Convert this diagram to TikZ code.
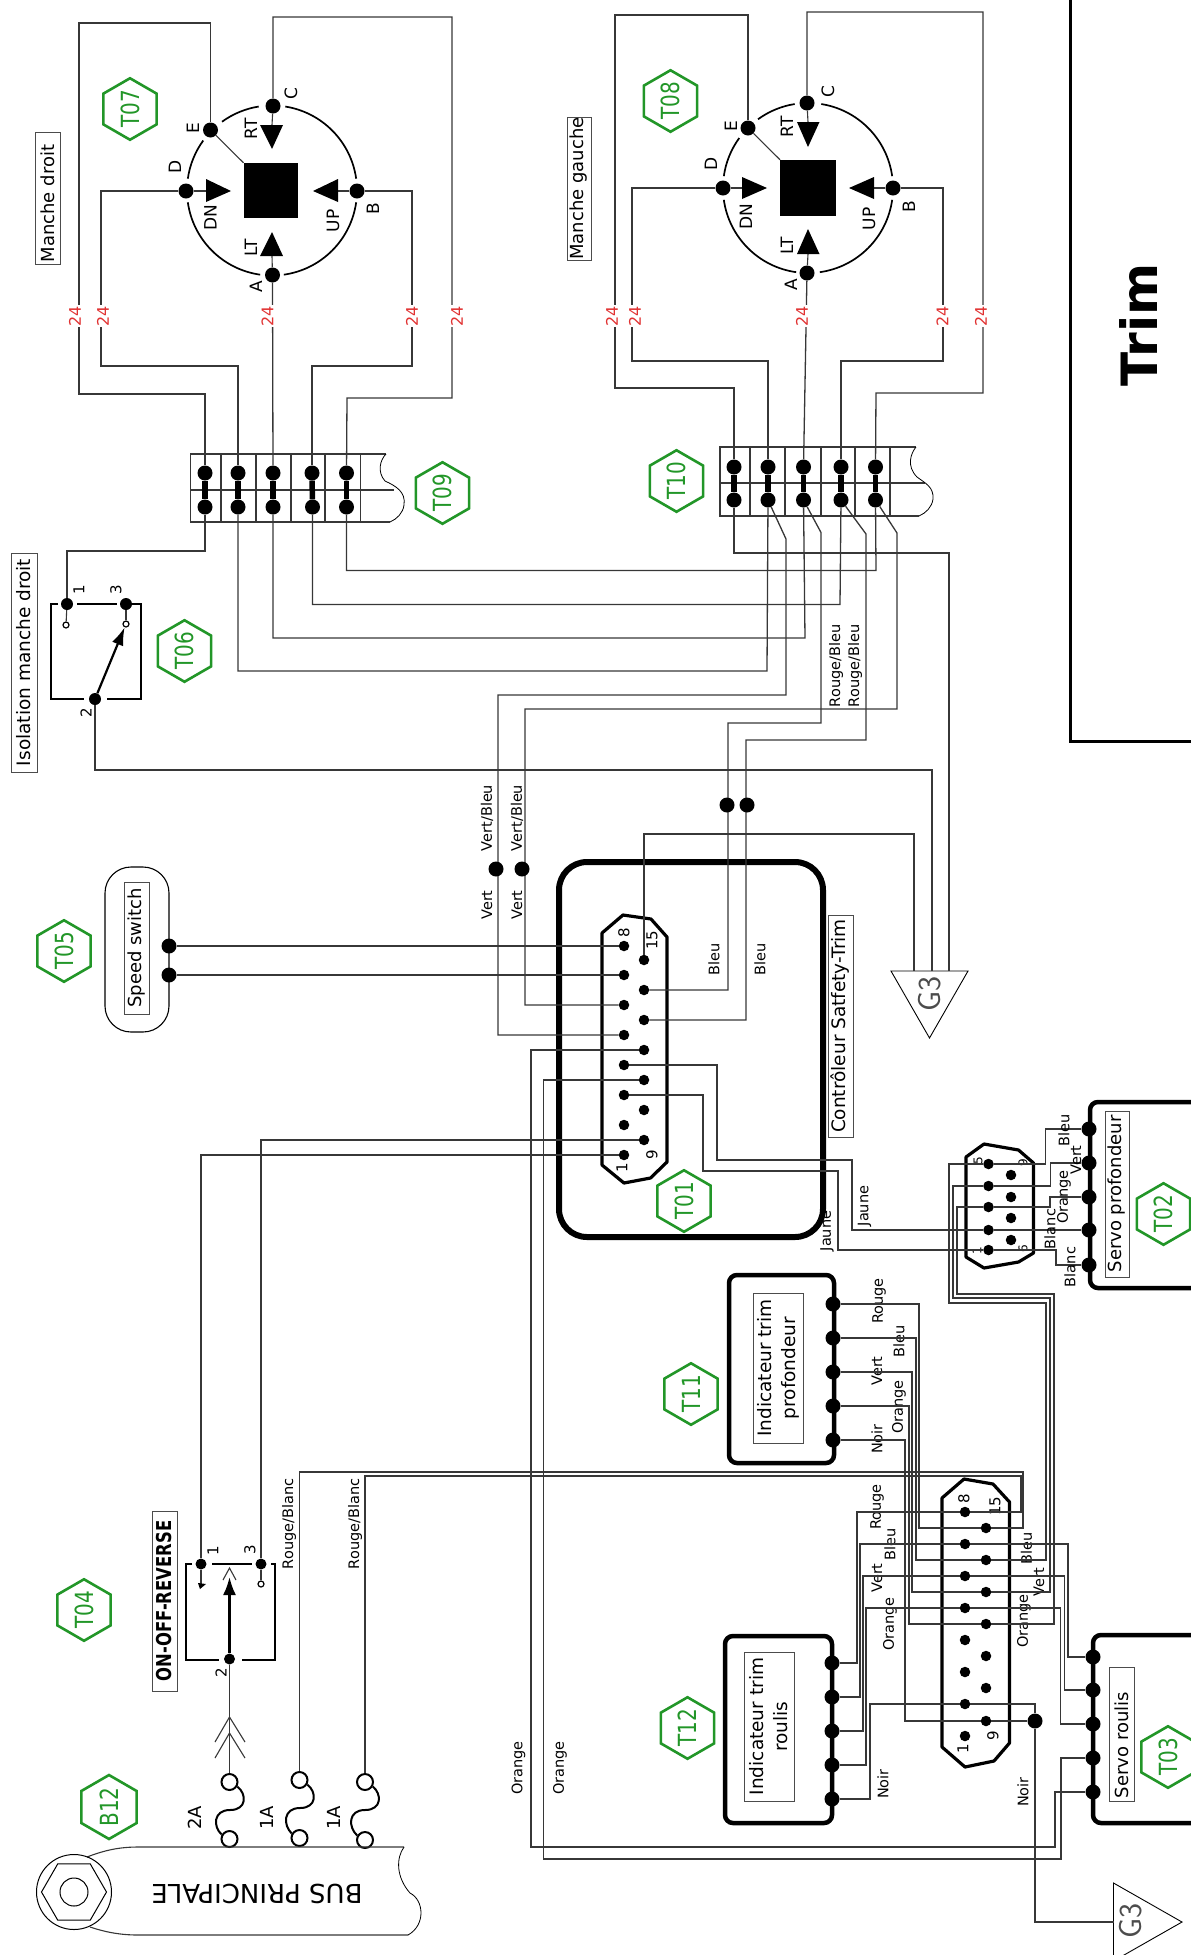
\documentclass[tikz,border=0pt]{standalone}
\usepackage{fontspec}
\setmainfont{DejaVu Sans}
\newfontfamily\hexfont{DejaVu Sans}[FakeStretch=0.8]
\usetikzlibrary{shapes.geometric}
\usetikzlibrary{arrows.meta}
\definecolor{hexgreen}{RGB}{34,150,40}
\definecolor{numred}{RGB}{225,50,50}
\definecolor{wiregray}{RGB}{55,55,55}

\begin{document}
\begin{tikzpicture}[x=1pt, y=-1pt]
	\tikzstyle{wire}=[draw=wiregray, line width=1.3pt]
	\tikzstyle{thinline}=[draw=wiregray, line width=1.1pt]
	\tikzstyle{ringline}=[draw=black, line width=1.7pt]
	\tikzstyle{thickbox}=[draw=black, line width=4.5pt, rounded corners=8pt]
	\tikzstyle{plugline}=[draw=black, line width=3.2pt, line join=round]
	\tikzstyle{busbar}=[draw=black, line width=5.5pt]
	\tikzstyle{termdot}=[circle, fill=black, inner sep=0pt, minimum size=15pt]
	\tikzstyle{pindot}=[circle, fill=black, inner sep=0pt, minimum size=10.5pt]
	\tikzstyle{smallring}=[circle, draw=black, fill=white, line width=1.2pt, inner sep=0pt, minimum size=6pt]
	\tikzstyle{fusering}=[circle, draw=black, fill=white, line width=2pt, inner sep=0pt, minimum size=16pt]
	\tikzstyle{hexag}=[regular polygon, regular polygon sides=6, draw=hexgreen, text=hexgreen, line width=2.6pt, minimum size=60pt, inner sep=0pt, rotate=90, font=\hexfont\fontsize{25}{25}\selectfont]
	\tikzstyle{wirelab}=[rotate=90, inner sep=0pt, font=\fontsize{14.5}{16}\selectfont]
	\tikzstyle{pinlab}=[rotate=90, inner sep=0pt, font=\fontsize{15}{16}\selectfont]
	\tikzstyle{swlab}=[rotate=90, inner sep=0pt, font=\fontsize{17}{18}\selectfont]
	\tikzstyle{numlab}=[rotate=90, fill=white, text=numred, inner sep=1pt, font=\fontsize{16}{16}\selectfont]
	\tikzstyle{titlebox}=[draw=black!70, line width=.8pt, rotate=90, inner sep=0pt, align=center, font=\fontsize{18.5}{24}\selectfont]
	\tikzstyle{titlesmall}=[font=\fontsize{18}{24}\selectfont]
	\tikzstyle{groundlab}=[rotate=90, inner sep=0pt, text=black!70, font=\sffamily\fontsize{32}{32}\selectfont]

	\useasboundingbox (0,0) rectangle (1191,1955);
	\clip (0,0) rectangle (1191,1955);

	% poignee droite
	\draw node at (271,190.5) [fill=black, minimum width=54.5pt, minimum height=55pt, inner sep=0pt] (sq7) {};
	\coordinate (cen7) at (272,190.5);
	\draw [ringline] ([shift={(99:85pt)}]cen7) arc [start angle=99, end angle=126, radius=85pt];
	\draw [ringline] ([shift={(144:85pt)}]cen7) arc [start angle=144, end angle=172, radius=85pt];
	\draw [ringline] ([shift={(188:85pt)}]cen7) arc [start angle=188, end angle=262, radius=85pt];
	\draw [ringline] ([shift={(278:85pt)}]cen7) arc [start angle=278, end angle=352, radius=85pt];
	\draw [ringline] ([shift={(8:85pt)}]cen7) arc [start angle=8, end angle=81, radius=85pt];
	\draw node at (210.5,130) [termdot] (e7) {};
	\draw node at (186,191) [termdot] (d7) {};
	\draw node at (272.5,275) [termdot] (a7) {};
	\draw node at (357,191) [termdot] (b7) {};
	\draw node at (273,106) [termdot] (c7) {};
	\draw [thinline] (e7) -- (sq7.north west);
	\draw [thinline] (d7) -- (206,191);
	\draw [thinline] (b7) -- (337,191);
	\draw [thinline] (c7) -- (272,125);
	\draw [thinline] (a7) -- (272,256);
	\fill (206,179) -- (231,191) -- (206,202) -- cycle;
	\fill (338,179) -- (313,191) -- (338,202) -- cycle;
	\fill (260,125) -- (272,149) -- (283,125) -- cycle;
	\fill (260,256) -- (272,232) -- (283,256) -- cycle;
	\draw node at (193,128) [swlab] (le7) {E};
	\draw node at (175,167) [swlab] (ld7) {D};
	\draw node at (291,94) [swlab] (lc7) {C};
	\draw node at (251,129) [swlab] (lrt7) {RT};
	\draw node at (210.5,218) [swlab] (ldn7) {DN};
	\draw node at (251,248) [swlab] (llt7) {LT};
	\draw node at (256,287) [swlab] (la7) {A};
	\draw node at (333,221) [swlab] (lup7) {UP};
	\draw node at (373,209) [swlab] (lb7) {B};
	\draw node at (47.5,198) [titlebox, titlesmall, minimum width=132pt, minimum height=25pt] (md) {Manche droit\hspace{11pt}};
	\draw node at (130,109) [hexag] (t07) {T07};

	% bornier droit
	\draw [thinline] (386,454) -- (190.5,454) -- (190.5,522) -- (390,522);
	\draw [thinline] (190.5,490) -- (394,490);
	\draw [thinline] (221,454) -- (221,522);
	\draw [thinline] (256,454) -- (256,522);
	\draw [thinline] (291,454) -- (291,522);
	\draw [thinline] (325,454) -- (325,522);
	\draw [thinline] (360.5,454) -- (360.5,522);
	\draw [draw=black, line width=.8pt] (386,454) .. controls (380,460) and (377,472) .. (385,481) .. controls (396,486) and (406,492) .. (404,505) .. controls (403,513) and (397,519) .. (390,522);
	\draw node at (205,473) [termdot] (a9) {};
	\draw node at (238,473) [termdot] (b9) {};
	\draw node at (273,473) [termdot] (c9) {};
	\draw node at (312,473) [termdot] (d9) {};
	\draw node at (346.5,473) [termdot] (e9) {};
	\draw node at (205,507) [termdot] (a9b) {};
	\draw node at (238,507) [termdot] (b9b) {};
	\draw node at (273,507) [termdot] (c9b) {};
	\draw node at (312.5,507) [termdot] (d9b) {};
	\draw node at (346.5,507) [termdot] (e9b) {};
	\draw [busbar] (a9) -- (a9b);
	\draw [busbar] (b9) -- (b9b);
	\draw [busbar] (c9) -- (c9b);
	\draw [busbar] (d9) -- (d9b);
	\draw [busbar] (e9) -- (e9b);
	\draw node at (442.5,493) [hexag] (t09) {T09};

	\draw [wire] (e7) |- (79,23) -- (79,394) -| (a9);
	\draw [wire] (d7) -| (101,366) -| (b9);
	\draw [wire] (a7) -- (c9);
	\draw [wire] (b7) -| (412,366) -| (d9);
	\draw [wire] (c7) |- (452,17) |- (347,398) -- (e9);
	\draw node at (75,316) [numlab] (n71) {24};
	\draw node at (103,316) [numlab] (n72) {24};
	\draw node at (267.5,316) [numlab] (n73) {24};
	\draw node at (412,316) [numlab] (n74) {24};
	\draw node at (457,316) [numlab] (n75) {24};

	% poignee gauche
	\draw node at (808,188) [fill=black, minimum width=55.5pt, minimum height=56pt, inner sep=0pt] (sq8) {};
	\coordinate (cen8) at (808,188);
	\draw [ringline] ([shift={(99:85pt)}]cen8) arc [start angle=99, end angle=126, radius=85pt];
	\draw [ringline] ([shift={(144:85pt)}]cen8) arc [start angle=144, end angle=172, radius=85pt];
	\draw [ringline] ([shift={(188:85pt)}]cen8) arc [start angle=188, end angle=262, radius=85pt];
	\draw [ringline] ([shift={(278:85pt)}]cen8) arc [start angle=278, end angle=352, radius=85pt];
	\draw [ringline] ([shift={(8:85pt)}]cen8) arc [start angle=8, end angle=81, radius=85pt];
	\draw node at (748,128) [termdot] (e8) {};
	\draw node at (723,188) [termdot] (d8) {};
	\draw node at (807,273) [termdot] (a8) {};
	\draw node at (893,188) [termdot] (b8) {};
	\draw node at (807,103) [termdot] (c8) {};
	\draw [thinline] (e8) -- (sq8.north west);
	\draw [thinline] (d8) -- (742,188);
	\draw [thinline] (b8) -- (874,188);
	\draw [thinline] (c8) -- (808,122);
	\draw [thinline] (a8) -- (808,254);
	\fill (742,177) -- (767,188) -- (742,199) -- cycle;
	\fill (874,177) -- (849,188) -- (874,199) -- cycle;
	\fill (797,122) -- (808,147) -- (819.5,122) -- cycle;
	\fill (797,254) -- (808,229) -- (819.5,254) -- cycle;
	\draw node at (731,126) [swlab] (le8) {E};
	\draw node at (711,164) [swlab] (ld8) {D};
	\draw node at (828,92) [swlab] (lc8) {C};
	\draw node at (787,127) [swlab] (lrt8) {RT};
	\draw node at (746,217) [swlab] (ldn8) {DN};
	\draw node at (787,246) [swlab] (llt8) {LT};
	\draw node at (791,285) [swlab] (la8) {A};
	\draw node at (869,219) [swlab] (lup8) {UP};
	\draw node at (909,207) [swlab] (lb8) {B};
	\draw node at (579,188.5) [titlebox, titlesmall, minimum width=143pt, minimum height=24pt] (mg) {Manche gauche};
	\draw node at (670.5,101) [hexag] (t08) {T08};

	% bornier gauche
	\draw [thinline] (916,447) -- (720,447) -- (720,516) -- (919,516);
	\draw [thinline] (720,483) -- (925,483);
	\draw [thinline] (750,447) -- (750,516);
	\draw [thinline] (785,447) -- (785,516);
	\draw [thinline] (821,447) -- (821,516);
	\draw [thinline] (855,447) -- (855,516);
	\draw [thinline] (890,447) -- (890,516);
	\draw [draw=black, line width=.8pt] (916,447) .. controls (911,453) and (906,466) .. (917,477) .. controls (925,483) and (934,487) .. (933,499) .. controls (932,507) and (926,513) .. (919,516);
	\draw node at (734,467) [termdot] (a10) {};
	\draw node at (768,467) [termdot] (b10) {};
	\draw node at (803.5,467) [termdot] (c10) {};
	\draw node at (841,467) [termdot] (d10) {};
	\draw node at (875.5,467) [termdot] (e10) {};
	\draw node at (734,500) [termdot] (a10b) {};
	\draw node at (768,500) [termdot] (b10b) {};
	\draw node at (803.5,500) [termdot] (c10b) {};
	\draw node at (841,500) [termdot] (d10b) {};
	\draw node at (875.5,500) [termdot] (e10b) {};
	\draw [busbar] (a10) -- (a10b);
	\draw [busbar] (b10) -- (b10b);
	\draw [busbar] (c10) -- (c10b);
	\draw [busbar] (d10) -- (d10b);
	\draw [busbar] (e10) -- (e10b);
	\draw node at (676.5,481) [hexag] (t10) {T10};

	\draw [wire] (e8) |- (615,15) -- (615,388) -| (a10);
	\draw [wire] (d8) -| (632,361) -| (b10);
	\draw [wire] (a8) -- (c10);
	\draw [wire] (b8) -| (943,361) -| (d10);
	\draw [wire] (c8) |- (983,12) |- (876,393) -- (e10);
	\draw node at (612,316) [numlab] (n81) {24};
	\draw node at (635,316) [numlab] (n82) {24};
	\draw node at (802,316) [numlab] (n83) {24};
	\draw node at (942.5,316) [numlab] (n84) {24};
	\draw node at (981,316) [numlab] (n85) {24};

	% cadre trim
	\draw [draw=black, line width=3pt] (1070,-5) -- (1070,741) -- (1200,741);
	\draw node at (1138,325) [rotate=90, inner sep=0pt, font=\bfseries\fontsize{50}{50}\selectfont] (trim) {Trim};

	% isolation manche droit
	\draw [draw=black, line width=1.6pt] (58,604) -- (51,604) -- (51,699) -- (84,699);
	\draw [draw=black, line width=1.6pt] (107,699) -- (141,699) -- (141,604) -- (132,604);
	\draw [draw=black, line width=1.6pt] (77,604) -- (117,604);
	\draw node at (67,604) [termdot, minimum size=12pt] (sw1) {};
	\draw node at (126,604) [termdot, minimum size=12pt] (sw3) {};
	\draw node at (95,699) [termdot, minimum size=12pt] (sw2) {};
	\draw node at (66,625) [smallring] (sm1) {};
	\draw node at (126,624) [smallring] (sm3) {};
	\draw [thinline] (sw1) -- (sm1);
	\draw [thinline] (sw3) -- (sm3);
	\draw [draw=black, line width=2.2pt, -{Latex[length=18pt,width=12pt]}] (sw2) -- (sm3);
	\draw node at (79,590) [pinlab] (ls1) {1};
	\draw node at (116,590) [pinlab] (ls3) {3};
	\draw node at (86,713) [pinlab] (ls2) {2};
	\draw node at (24,662.5) [titlebox, minimum width=219pt, minimum height=26pt] (iso) {Isolation manche droit};
	\draw node at (184.5,651) [hexag] (t06) {T06};
	\draw [wire] (a9b) |- (67,551) -- (sw1);

	% controleur
	\draw [draw=black, line width=6pt, rounded corners=28pt] (559,862) rectangle (823,1237);
	\draw [plugline] (602,933) -- (623,915) -- (651,919) -- (667,937) -- (667,1162) -- (650.5,1178) -- (624,1183) -- (602,1165) -- cycle;
	\draw node at (624,946) [pindot] (pa1) {};
	\draw node at (624,975) [pindot] (pa2) {};
	\draw node at (624,1005) [pindot] (pa3) {};
	\draw node at (624,1035) [pindot] (pa4) {};
	\draw node at (624,1065) [pindot] (pa5) {};
	\draw node at (624,1095) [pindot] (pa6) {};
	\draw node at (624,1125) [pindot] (pa7) {};
	\draw node at (624,1155) [pindot] (pa8) {};
	\draw node at (644,960) [pindot] (qa1) {};
	\draw node at (644,990) [pindot] (qa2) {};
	\draw node at (644,1020) [pindot] (qa3) {};
	\draw node at (644,1050) [pindot] (qa4) {};
	\draw node at (644,1080) [pindot] (qa5) {};
	\draw node at (644,1110) [pindot] (qa6) {};
	\draw node at (644,1140) [pindot] (qa7) {};
	\draw node at (624,933) [pinlab] (lpa8) {8};
	\draw node at (652,940) [pinlab] (lpa15) {15};
	\draw node at (622,1168) [pinlab] (lpa1) {1};
	\draw node at (652,1155) [pinlab] (lpa9) {9};
	\draw node at (840.5,1026) [titlebox, minimum width=222pt, minimum height=25pt] (ctrl) {Contrôleur Satfety-Trim};
	\draw node at (684,1201) [hexag] (t01) {T01};

	% speed switch
	\draw [draw=black, line width=1.1pt, rounded corners=26pt] (105,867) rectangle (169,1032);
	\draw node at (136.5,948) [titlebox, titlesmall, minimum width=132pt, minimum height=25pt] (speed) {Speed switch};
	\draw node at (169,946) [termdot] (ss1) {};
	\draw node at (169,975) [termdot] (ss2) {};
	\draw node at (64,951) [hexag] (t05) {T05};
	\draw [wire] (ss1) -- (pa1);
	\draw [wire] (ss2) -- (pa2);

	% masse G3 haut
	\draw [draw=black, line width=.9pt] (891,971) -- (968,971) -- (929.5,1038) -- cycle;
	\coordinate (g3a) at (914,971);
	\coordinate (g3b) at (932,971);
	\coordinate (g3c) at (949,971);
	\draw node at (930,994) [groundlab] (lg3a) {G3};

	\draw [wire] (e10b) -- (897,533) |- (525,709) |- (pa3);
	\draw [wire] (b10b) -- (786,539) |- (498,695) |- (pa4);
	\draw [wire] (c10b) -- (821,532.5) |- (728,723) |- (qa2);
	\draw [wire] (d10b) -- (866,534) |- (746,740) |- (qa3);
	\draw [wire] (a10b) |- (949,553) -- (g3c);
	\draw [wire] (sw2) |- (932,770) -- (g3b);
	\draw [wire] (qa1) |- (914,834) -- (g3a);
	\draw [wire] (b9b) |- (767,671) -- (b10b);
	\draw [wire] (c9b) |- (805,638) -- (c10b);
	\draw [wire] (d9b) |- (840,604.5) -- (d10b);
	\draw [wire] (e9b) |- (876,570.5) -- (e10b);
	\draw node at (496,869) [termdot] (jv1) {};
	\draw node at (522,869) [termdot] (jv2) {};
	\draw node at (727,805) [termdot] (jb1) {};
	\draw node at (747,805) [termdot] (jb2) {};
	\draw node at (487,818) [wirelab] (lvb1) {Vert/Bleu};
	\draw node at (517,818) [wirelab] (lvb2) {Vert/Bleu};
	\draw node at (487,905) [wirelab] (lv1) {Vert};
	\draw node at (517,905) [wirelab] (lv2) {Vert};
	\draw node at (836,666) [wirelab] (lrb1) {Rouge/Bleu};
	\draw node at (855,666) [wirelab] (lrb2) {Rouge/Bleu};
	\draw node at (714,959) [wirelab] (lbl1) {Bleu};
	\draw node at (760,959) [wirelab] (lbl2) {Bleu};

	% servo profondeur
	\draw [thickbox] (1200,1102) -- (1090,1102) -- (1090,1288) -- (1200,1288);
	\draw node at (1117,1194) [titlebox, titlesmall, minimum width=166pt, minimum height=24pt] (sp) {Servo profondeur};
	\draw node at (1163.5,1214) [hexag] (t02) {T02};
	\draw node at (1089,1129) [termdot] (t2a) {};
	\draw node at (1089,1163) [termdot] (t2b) {};
	\draw node at (1089,1197) [termdot] (t2c) {};
	\draw node at (1089,1230) [termdot] (t2d) {};
	\draw node at (1089,1265) [termdot] (t2e) {};
	\draw [plugline] (966,1157) -- (984,1144) -- (1018.5,1150) -- (1033.5,1163) -- (1033.5,1253) -- (1018.5,1262) -- (984,1268) -- (966,1257) -- cycle;
	\draw node at (988.5,1164) [pindot] (ra1) {};
	\draw node at (988.5,1186) [pindot] (ra2) {};
	\draw node at (988.5,1207) [pindot] (ra3) {};
	\draw node at (988.5,1230) [pindot] (ra4) {};
	\draw node at (988.5,1250) [pindot] (ra5) {};
	\draw node at (1011,1175) [pindot] (rb1) {};
	\draw node at (1011,1197) [pindot] (rb2) {};
	\draw node at (1011,1218) [pindot] (rb3) {};
	\draw node at (1011,1240) [pindot] (rb4) {};
	\draw node at (978,1161) [pinlab, font=\fontsize{12}{12}\selectfont] (lra5) {5};
	\draw node at (1023,1163) [pinlab, font=\fontsize{12}{12}\selectfont] (lra9) {9};
	\draw node at (977,1251) [pinlab, font=\fontsize{12}{12}\selectfont] (lra1) {1};
	\draw node at (1023,1249) [pinlab, font=\fontsize{12}{12}\selectfont] (lra6) {6};
	\draw [wire] (ra1) -| (1045.5,1129) -- (t2a);
	\draw [wire] (ra2) -| (1050.5,1163) -- (t2b);
	\draw [wire] (ra3) -| (1050,1197) -- (t2c);
	\draw [wire] (ra4) -- (t2d);
	\draw [wire] (ra5) -| (1056,1265) -- (t2e);
	\draw [wire] (pa5) -| (717,1160) -| (852,1230) -- (ra4);
	\draw [wire] (pa6) -| (703,1171) -| (838,1250) -- (ra5);
	\draw node at (1064,1130) [wirelab] (lt2a) {Bleu};
	\draw node at (1076,1160) [wirelab] (lt2b) {Vert};
	\draw node at (1064,1197) [wirelab] (lt2c) {Orange};
	\draw node at (1050,1229) [wirelab] (lt2d) {Blanc};
	\draw node at (1070,1267) [wirelab] (lt2e) {Blanc};
	\draw node at (864.5,1206) [wirelab] (lj1) {Jaune};
	\draw node at (827,1231) [wirelab] (lj2) {Jaune};

	% indicateur profondeur
	\draw [thickbox] (729,1275) rectangle (834,1463);
	\draw node at (778,1368) [titlebox, minimum width=150pt, minimum height=50pt] (ip) {Indicateur trim\\profondeur};
	\draw node at (691,1394) [hexag] (t11) {T11};
	\draw node at (833,1304) [termdot] (i1) {};
	\draw node at (833,1338) [termdot] (i2) {};
	\draw node at (833,1372) [termdot] (i3) {};
	\draw node at (833,1406) [termdot] (i4) {};
	\draw node at (833,1440) [termdot] (i5) {};
	\draw node at (879,1301) [wirelab] (li1) {Rouge};
	\draw node at (899,1341) [wirelab] (li2) {Bleu};
	\draw node at (877,1371) [wirelab] (li3) {Vert};
	\draw node at (899,1407) [wirelab] (li4) {Orange};
	\draw node at (877,1439) [wirelab] (li5) {Noir};

	% prise 15 points
	\draw [plugline] (942,1498) -- (964,1479) -- (993,1484) -- (1009.5,1502) -- (1009.5,1743) -- (994,1761) -- (965,1767) -- (942,1747) -- cycle;
	\draw node at (965,1512) [pindot] (pb1) {};
	\draw node at (965,1544) [pindot] (pb2) {};
	\draw node at (965,1576) [pindot] (pb3) {};
	\draw node at (965,1608) [pindot] (pb4) {};
	\draw node at (965,1640) [pindot] (pb5) {};
	\draw node at (965,1672) [pindot] (pb6) {};
	\draw node at (965,1704) [pindot] (pb7) {};
	\draw node at (965,1736) [pindot] (pb8) {};
	\draw node at (986,1528) [pindot] (qb1) {};
	\draw node at (986,1560) [pindot] (qb2) {};
	\draw node at (986,1592) [pindot] (qb3) {};
	\draw node at (986,1624) [pindot] (qb4) {};
	\draw node at (986,1656) [pindot] (qb5) {};
	\draw node at (986,1688) [pindot] (qb6) {};
	\draw node at (986,1721) [pindot] (qb7) {};
	\draw node at (964,1499) [pinlab] (lpb8) {8};
	\draw node at (995,1506) [pinlab] (lpb15) {15};
	\draw node at (963,1749) [pinlab] (lpb1) {1};
	\draw node at (993,1736) [pinlab] (lpb9) {9};

	% indicateur roulis
	\draw [thickbox] (725,1636) rectangle (832,1823);
	\draw node at (769,1726.5) [titlebox, minimum width=149pt, minimum height=50pt] (ir) {Indicateur trim\\roulis};
	\draw node at (687.5,1728) [hexag] (t12) {T12};
	\draw node at (832,1663) [termdot] (j1) {};
	\draw node at (832,1697) [termdot] (j2) {};
	\draw node at (832,1731) [termdot] (j3) {};
	\draw node at (832,1765) [termdot] (j4) {};
	\draw node at (832,1799) [termdot] (j5) {};
	\draw node at (877,1507) [wirelab] (lj1a) {Rouge};
	\draw node at (890,1544) [wirelab] (lj2a) {Bleu};
	\draw node at (877,1578) [wirelab] (lj3a) {Vert};
	\draw node at (890,1624) [wirelab] (lj4a) {Orange};
	\draw node at (883,1784) [wirelab] (lj5a) {Noir};

	% servo roulis
	\draw [thickbox] (1200,1635) -- (1093,1635) -- (1093,1823) -- (1200,1823);
	\draw node at (1121.5,1734) [titlebox, titlesmall, minimum width=134pt, minimum height=25pt] (sr) {Servo roulis\hspace{22pt}};
	\draw node at (1168,1757) [hexag] (t03) {T03};
	\draw node at (1093,1657) [termdot] (t3a) {};
	\draw node at (1093,1690) [termdot] (t3b) {};
	\draw node at (1093,1724) [termdot] (t3c) {};
	\draw node at (1093,1758) [termdot] (t3d) {};
	\draw node at (1093,1792) [termdot] (t3e) {};
	\draw node at (1026.5,1548) [wirelab] (lt3a) {Bleu};
	\draw node at (1039,1582) [wirelab] (lt3b) {Vert};
	\draw node at (1024,1621) [wirelab] (lt3c) {Orange};
	\draw node at (1023,1792) [wirelab] (lt3e) {Noir};
	\draw node at (518.5,1768) [wirelab] (lo1) {Orange};
	\draw node at (560,1768) [wirelab] (lo2) {Orange};

	% masse G3 bas
	\draw [draw=black, line width=.9pt] (1113.5,1883) -- (1182,1922) -- (1113.5,1961) -- cycle;
	\coordinate (g3d) at (1113.5,1922);
	\draw node at (1131,1921) [groundlab] (lg3b) {G3};
	\draw node at (1035,1721) [termdot] (jn) {};

	\draw [wire] (i1) -| (919,1528) -- (qb1);
	\draw [wire] (i2) -| (916,1560) -- (qb2);
	\draw [wire] (i3) -| (912,1592) -- (qb3);
	\draw [wire] (i4) -| (909,1624) -- (qb4);
	\draw [wire] (i5) -| (905,1721) -- (qb7);
	\draw [wire] (qb7) -- (jn);
	\draw [wire] (jn) |- (g3d);
	\draw [wire] (pb7) -| (jn);
	\draw [wire] (ra1) -| (949,1303) -| (1046,1560) -- (qb2);
	\draw [wire] (ra2) -| (953,1298) -| (1050,1592) -- (qb3);
	\draw [wire] (ra3) -| (957,1294) -| (1054,1624) -- (qb4);
	\draw [wire] (pb1) -| (857,1663) -- (j1);
	\draw [wire] (pb2) -| (860,1697) -- (j2);
	\draw [wire] (pb3) -| (863,1731) -- (j3);
	\draw [wire] (pb4) -| (866,1765) -- (j4);
	\draw [wire] (pb7) -| (870,1799) -- (j5);
	\draw [wire] (pb2) -| (1068,1657) -- (t3a);
	\draw [wire] (pb3) -| (1064.5,1690) -- (t3b);
	\draw [wire] (pb4) -| (1060.5,1724) -- (t3c);
	\draw [wire] (qa4) -| (531,1847) -| (1055,1792) -- (t3e);
	\draw [wire] (qa5) -| (543.5,1859) -| (1061,1758) -- (t3d);

	% inverseur
	\draw [draw=black, line width=1.6pt] (192,1564) -- (186,1564) -- (186,1660) -- (219,1660);
	\draw [draw=black, line width=1.6pt] (242,1660) -- (275,1660) -- (275,1564) -- (271,1564);
	\draw [draw=black, line width=1.6pt] (212,1564) -- (252,1564);
	\draw node at (201,1564) [termdot, minimum size=11pt] (sr1) {};
	\draw node at (261,1564) [termdot, minimum size=11pt] (sr3) {};
	\draw node at (229.5,1659) [termdot, minimum size=11pt] (sr2) {};
	\draw node at (261,1584) [smallring] (sm4) {};
	\coordinate (st1) at (201,1584);
	\coordinate (st2) at (229.5,1577);
	\draw [thinline] (sr1) -- (st1);
	\draw [thinline] (sr3) -- (sm4);
	\fill (198,1583) -- (206,1584) -- (200,1589) -- cycle;
	\draw [draw=black, line width=2.4pt, -{Latex[length=18pt,width=13pt]}] (sr2) -- (st2);
	\draw [thinline] (223,1580) -- (229.5,1568) -- (236,1580);
	\draw node at (213,1551) [pinlab] (lsr1) {1};
	\draw node at (250,1550) [pinlab] (lsr3) {3};
	\draw node at (221,1673) [pinlab] (lsr2) {2};
	\draw node at (164.5,1601) [titlebox, minimum width=180pt, minimum height=25pt, font=\hexfont\bfseries\fontsize{20.5}{20.5}\selectfont] (oor) {ON-OFF-REVERSE};
	\draw node at (84,1610) [hexag] (t04) {T04};
	\draw [wire] (qa7) -| (sr3);
	\draw [wire] (pa8) -| (sr1);

	% fusibles
	\draw node at (229.5,1782) [fusering] (fa1) {};
	\draw node at (229.5,1839) [fusering] (fa2) {};
	\draw node at (299.5,1780) [fusering] (fb1) {};
	\draw node at (299.5,1838) [fusering] (fb2) {};
	\draw node at (365,1782) [fusering] (fc1) {};
	\draw node at (365,1840) [fusering] (fc2) {};
	\draw [draw=black, line width=2pt] (fa1.-30) .. controls (247,1794) and (247,1810) .. (230,1810) .. controls (213,1810) and (213,1827) .. (fa2.150);
	\draw [draw=black, line width=2pt] (fb1.-30) .. controls (317,1792) and (317,1808) .. (300,1808) .. controls (283,1808) and (283,1825) .. (fb2.150);
	\draw [draw=black, line width=2pt] (fc1.-30) .. controls (382,1794) and (382,1810) .. (365,1810) .. controls (348,1810) and (348,1827) .. (fc2.150);
	\draw [wire] (sr2) -- (fa1);
	\draw [thinline] (215,1742) -- (229.5,1717) -- (245,1742);
	\draw [thinline] (215,1758) -- (229.5,1733) -- (245,1758);
	\draw [wire] (qb1) -| (1023,1472) -| (fb1);
	\draw [wire] (pb1) -| (1021,1476) -| (fc1);
	\draw node at (195,1818) [swlab, font=\fontsize{18}{18}\selectfont] (lf1) {2A};
	\draw node at (267,1818) [swlab, font=\fontsize{18}{18}\selectfont] (lf2) {1A};
	\draw node at (334,1818) [swlab, font=\fontsize{18}{18}\selectfont] (lf3) {1A};
	\draw node at (289,1524) [wirelab] (lrw1) {Rouge/Blanc};
	\draw node at (355,1524) [wirelab] (lrw2) {Rouge/Blanc};
	\draw node at (109,1807) [hexag] (b12) {B12};

	% bus
	\draw [thinline] (87,1857) .. controls (105,1850) and (120,1847) .. (138,1847) -- (404,1847);
	\draw [thinline] (90,1927) .. controls (105,1932) and (120,1935) .. (138,1935) -- (408,1935);
	\draw [draw=black, line width=.8pt] (404,1847) .. controls (396,1858) and (396,1877) .. (410,1893) .. controls (424,1900) and (426,1925) .. (408,1935);
	\draw node at (74,1892) [circle, draw=black, line width=1pt, minimum size=75pt, inner sep=0pt] (bolt) {};
	\draw node at (74,1892) [regular polygon, regular polygon sides=6, draw=black, line width=1pt, minimum size=65pt, inner sep=0pt] (nut) {};
	\draw node at (74,1892) [circle, draw=black, line width=1pt, minimum size=28pt, inner sep=0pt] (bore) {};
	\draw node at (257,1894) [rotate=180, inner sep=0pt, font=\fontsize{26}{26}\selectfont] (bus) {BUS PRINCIPALE};
\end{tikzpicture}
\end{document}
